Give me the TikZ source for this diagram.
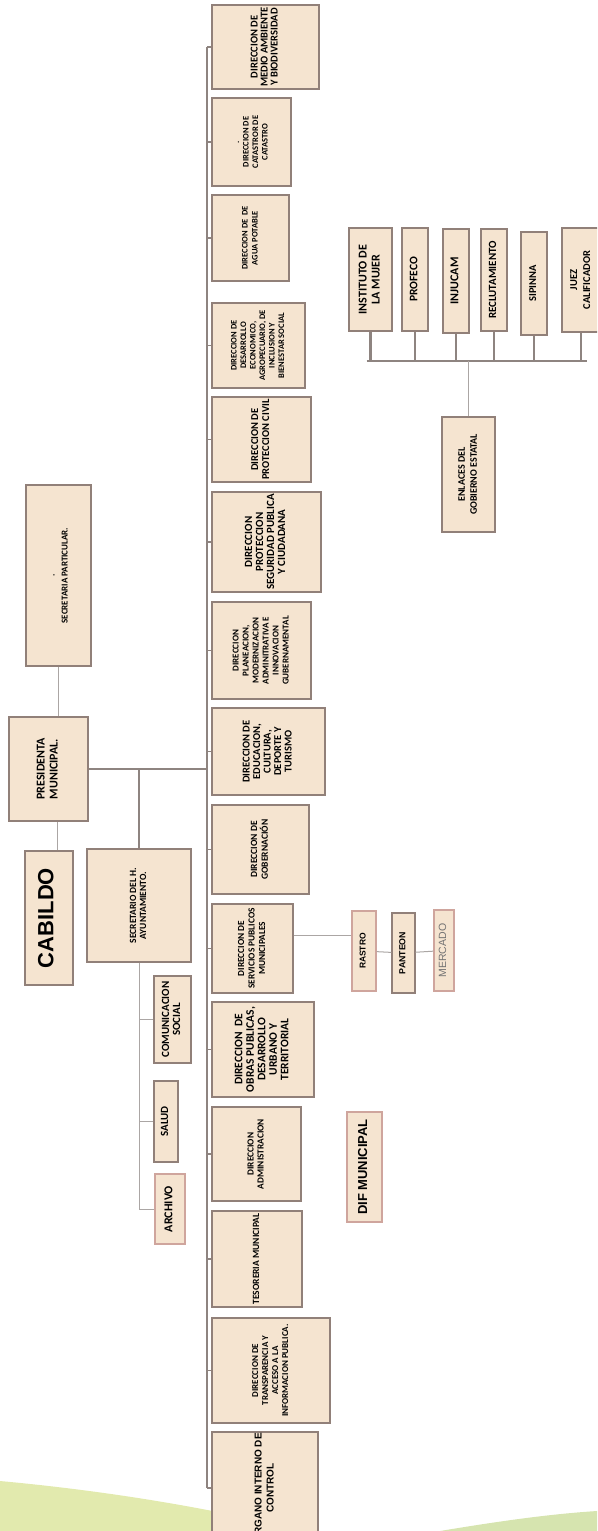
\documentclass[tikz,border=0pt]{standalone}
\usepackage{fontspec}
\setmainfont{Carlito}
\newfontfamily\arialf{Liberation Sans}
\usepackage{graphicx}

\definecolor{boxc}{HTML}{F5E4D0}
\definecolor{bordc}{HTML}{918079}
\definecolor{pinkb}{HTML}{CFA59D}
\definecolor{spinec}{HTML}{8E8480}
\definecolor{thinc}{HTML}{ABA6A4}
\definecolor{leftg}{HTML}{E2EAAE}
\definecolor{rightg}{HTML}{D6E4AF}

% rotated multi-line label
\newcommand{\vt}[1]{\rotatebox{90}{\begin{tabular}{@{}c@{}}#1\end{tabular}}}

\begin{document}
\begin{tikzpicture}[x=1pt, y=-1pt,
  box/.style={draw=bordc, fill=boxc, line width=1.1pt, inner sep=0pt},
  fs/.style 2 args={font=\fontsize{#1}{#2}\selectfont\bfseries},
  af/.style={font=\fontsize{#1}{#1}\selectfont\arialf\bfseries},
  spine/.style={draw=spinec, line width=1.4pt},
  thinl/.style={draw=thinc, line width=1pt},
  bus/.style={draw=spinec, line width=2.2pt}]
  \useasboundingbox (0,0) rectangle (597,1531);
  \clip (0,0) rectangle (597,1531);

  % background waves
  \fill[leftg] (0,1481) .. controls (120,1492) and (230,1512) .. (300,1531) -- (0,1531) -- cycle;
  \fill[rightg] (440,1531) .. controls (500,1521) and (550,1514) .. (597,1511) -- (597,1531) -- cycle;

  % left column
  \node(sec)[box, minimum width=65pt, minimum height=181pt, fs={9}{13}] at (58.5,575.5) {\vt{.\\SECRETARIA PARTICULAR.}};
  \node(pres)[box, minimum width=79pt, minimum height=104pt, fs={12}{13}] at (48.5,769) {\vt{PRESIDENTA\\MUNICIPAL.}};
  \node(cab)[box, minimum width=48pt, minimum height=134pt, af=22] at (49,918) {\vt{CABILDO}};
  \node(say)[box, minimum width=104pt, minimum height=113pt, fs={9.5}{10}] at (139,905.5) {\vt{SECRETARIO DEL H.\\AYUNTAMIENTO.}};
  \node(com)[box, minimum width=37pt, minimum height=87pt, fs={11}{11}] at (172.5,1019.5) {\vt{COMUNICACION\\SOCIAL}};
  \node(sal)[box, minimum width=24pt, minimum height=81pt, fs={11}{11}] at (166,1121.5) {\vt{SALUD}};
  \node(arc)[box, draw=pinkb, minimum width=30pt, minimum height=70pt, fs={12}{12}] at (170,1209) {\vt{ARCHIVO}};

  % direcciones
  \node(ma)[box, minimum width=107pt, minimum height=84pt, fs={10.5}{10}] at (265.5,47) {\vt{DIRECCION DE\\MEDIO AMBIENTE\\Y BIODIVERSIDAD}};
  \node(cat)[box, minimum width=79pt, minimum height=88pt, fs={8.5}{9.5}] at (251.5,142) {\vt{.\\DIRECCION DE\\CATASTROR DE\\CATASTRO}};
  \node(agu)[box, minimum width=77pt, minimum height=86pt, fs={8.5}{10}] at (250.5,238) {\vt{DIRECCION DE\ \ DE\\AGUA POTABLE}};
  \node(des)[box, minimum width=93pt, minimum height=85pt, fs={8.5}{9.5}] at (258.5,345.5) {\vt{DIRECCION DE\\DESARROLLO\\ECONOMICO,\\AGROPECUARIO, DE\\INCLUSION Y\\BIENESTAR SOCIAL}};
  \node(pci)[box, minimum width=99pt, minimum height=85pt, fs={10.5}{11}] at (261.5,439.5) {\vt{DIRECCION DE\\PROTECCION CIVIL}};
  \node(seg)[box, minimum width=109pt, minimum height=100pt, fs={11}{11}] at (266.5,542) {\vt{DIRECCION\\PROTECCION\\SEGURIDAD PUBLICA\\Y CIUDADANA}};
  \node(pla)[box, minimum width=99pt, minimum height=97pt, fs={9}{10}] at (261.5,650.5) {\vt{DIRECCION\\PLANEACION,\\MODERNIZACION\\ADMINITRATIVA E\\INNOVACION\\GUBERNAMENTAL}};
  \node(edu)[box, minimum width=113pt, minimum height=87pt, fs={10.5}{10.5}] at (268.5,751.5) {\vt{DIRECCION DE\\EDUCACION,\\CULTURA,\\DEPORTE Y\\TURISMO}};
  \node(gob)[box, minimum width=97pt, minimum height=89pt, fs={9.5}{10}] at (260.5,849.5) {\vt{DIRECCION DE\\GOBERNACIÓN}};
  \node(ser)[box, minimum width=81pt, minimum height=89pt, fs={9.3}{10.5}] at (252.5,948.5) {\vt{DIRECCION DE\\SERVICIOS PUBLICOS\\MUNICIPALES}};
  \node(obr)[box, minimum width=102pt, minimum height=95pt, fs={11.5}{11.5}] at (263,1049.5) {\vt{DIRECCION\ \ DE\\OBRAS PUBLICAS,\\DESARROLLO\\URBANO Y\\TERRITORIAL}};
  \node(adm)[box, minimum width=89pt, minimum height=94pt, fs={9.3}{10}] at (256.5,1154) {\vt{DIRECCION\\ADMINISTRACION}};
  \node(tes)[box, minimum width=90pt, minimum height=96pt, fs={9.5}{10}] at (257,1259) {\vt{TESORERIA MUNICIPAL}};
  \node(tra)[box, minimum width=118pt, minimum height=105pt, fs={9}{10}] at (271,1370.5) {\vt{DIRECCION DE\\TRANSPARENCIA Y\\ACCESO A LA\\INFORMACION PUBLICA.}};
  \node(org)[box, minimum width=106pt, minimum height=112pt, font=\fontsize{10}{12}\selectfont\arialf\bfseries] at (265,1488) {\vt{ÓRGANO INTERNO DE\\CONTROL}};

  % servicios
  \node(ras)[box, draw=pinkb, minimum width=24pt, minimum height=80pt, af=8.5] at (364,951) {\vt{RASTRO}};
  \node(pan)[box, minimum width=23pt, minimum height=80pt, af=8.8] at (403.5,953) {\vt{PANTEON}};
  \node(mer)[box, draw=pinkb, minimum width=20pt, minimum height=81pt, text=black!55, font=\fontsize{10.5}{10.5}\selectfont\arialf] at (444,950.5) {\vt{MERCADO}};
  \node(dif)[box, draw=pinkb, minimum width=35pt, minimum height=110pt, af=13] at (364.5,1167) {\vt{DIF MUNICIPAL}};

  % enlaces
  \node(ins)[box, minimum width=43pt, minimum height=103pt, fs={12}{13}] at (370.5,279.5) {\vt{INSTITUTO DE\\LA MUJER}};
  \node(pro)[box, minimum width=26pt, minimum height=103pt, fs={11.5}{11.5}] at (415,279.5) {\vt{PROFECO}};
  \node(inj)[box, minimum width=26pt, minimum height=104pt, fs={12}{12}] at (456,281) {\vt{INJUCAM}};
  \node(rec)[box, minimum width=26pt, minimum height=102pt, fs={11}{11}] at (494,280) {\vt{RECLUTAMIENTO}};
  \node(sip)[box, minimum width=26pt, minimum height=103pt, fs={10.5}{10.5}] at (534,283.5) {\vt{SIPINNA}};
  \node(jue)[box, minimum width=38pt, minimum height=104pt, fs={10.5}{13}] at (581,280) {\vt{JUEZ\\CALIFICADOR}};
  \node(enl)[box, minimum width=53pt, minimum height=115pt, fs={10}{12}] at (468.5,474.5) {\vt{ENLACES DEL\\GOBIERNO ESTATAL}};

  \coordinate (top) at (207,47);
  \coordinate (bar) at (466,361);

  % connectors
  \draw[thinl] (sec.south) -- (sec.south |- pres.north);
  \draw[thinl] ([xshift=8pt]cab.north) -- ([xshift=8pt]cab.north |- pres.south);
  \draw[spine, line width=1.8pt] (pres.east) -- (pres.east -| top);
  \draw[spine] (say.north |- pres.east) -- (say.north);
  \draw[thinl] (say.south) -- (say.south |- arc.west) -- (arc.west);
  \draw[thinl] (say.south |- com.west) -- (com.west);
  \draw[thinl] (say.south |- sal.west) -- (sal.west);

  \draw[spine] (top) -- (top |- org.west);
  \draw[spine] (top |- ma.west) -- (ma.west);
  \draw[spine] (top |- cat.west) -- (cat.west);
  \draw[spine] (top |- agu.west) -- (agu.west);
  \draw[spine] (top |- des.west) -- (des.west);
  \draw[spine] (top |- pci.west) -- (pci.west);
  \draw[spine] (top |- seg.west) -- (seg.west);
  \draw[spine] (top |- pla.west) -- (pla.west);
  \draw[spine] (top |- edu.west) -- (edu.west);
  \draw[spine] (top |- gob.west) -- (gob.west);
  \draw[spine] (top |- ser.west) -- (ser.west);
  \draw[spine] (top |- obr.west) -- (obr.west);
  \draw[spine] (top |- adm.west) -- (adm.west);
  \draw[spine] (top |- tes.west) -- (tes.west);
  \draw[spine] (top |- tra.west) -- (tra.west);
  \draw[spine] (top |- org.west) -- (org.west);

  \draw[thinl] ([yshift=13pt]ser.east) -- ([yshift=13pt]ser.east -| ras.west);
  \draw[thinl] (ras) -- (pan);
  \draw[thinl] (pan) -- (mer);

  \draw[bus] ([xshift=-4pt]ins.south |- bar) -- ([xshift=6pt]jue.south |- bar);
  \draw[bus] (ins.south) -- (ins.south |- bar);
  \draw[bus] (pro.south) -- (pro.south |- bar);
  \draw[bus] (inj.south) -- (inj.south |- bar);
  \draw[bus] (rec.south) -- (rec.south |- bar);
  \draw[bus] (sip.south) -- (sip.south |- bar);
  \draw[bus] (jue.south) -- (jue.south |- bar);
  \draw[thinl] (enl.north) -- (enl.north |- bar);
\end{tikzpicture}
\end{document}
